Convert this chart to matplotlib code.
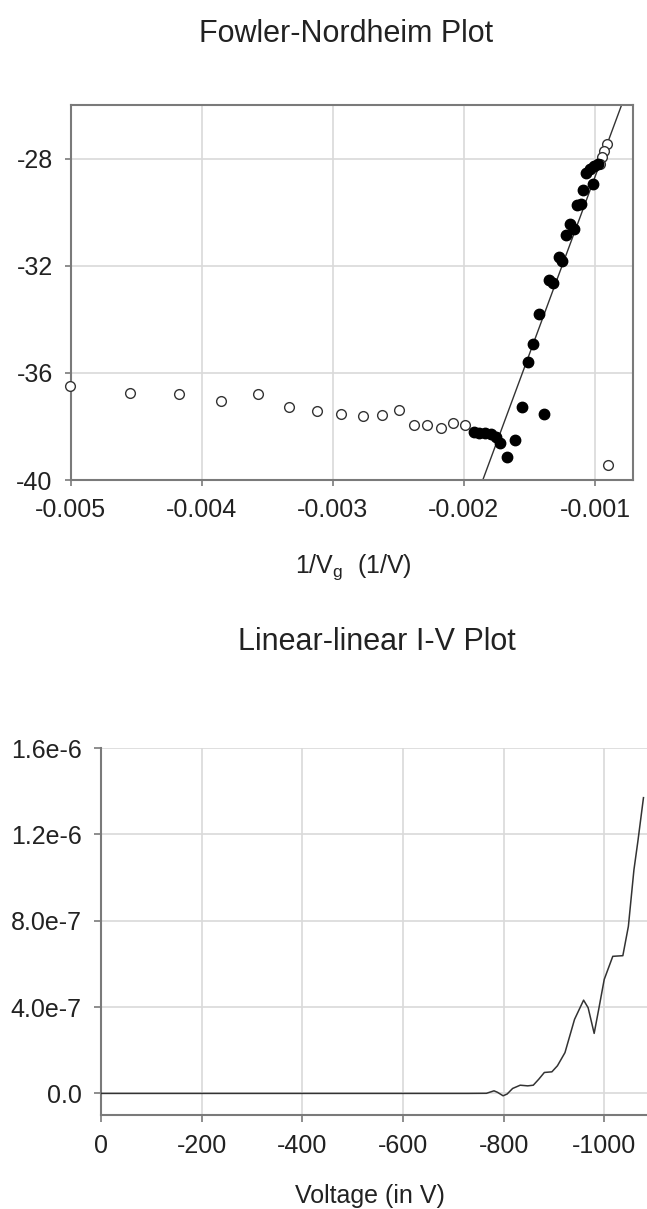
import matplotlib
matplotlib.use("Agg")
import matplotlib.pyplot as plt
import numpy as np

plt.rcParams['font.family'] = ['Liberation Sans', 'DejaVu Sans']
plt.rcParams['axes.unicode_minus'] = False

# ---------------- Fowler-Nordheim data ----------------
fn_open_x = [-0.005003, -0.004546, -0.00417, -0.003851, -0.003569, -0.003331, -0.003119,
             -0.002936, -0.002772, -0.002628, -0.002498, -0.002382, -0.002278, -0.002173,
             -0.00208, -0.001995, -0.000911, -0.000931, -0.000949, -0.000962, -0.000904]
fn_open_y = [-36.50, -36.77, -36.80, -37.05, -36.80, -37.27, -37.43,
             -37.54, -37.62, -37.59, -37.37, -37.95, -37.95, -38.04,
             -37.89, -37.95, -27.45, -27.70, -27.95, -28.20, -39.45]

fn_fill_x = [-0.00192, -0.001882, -0.001836, -0.001796, -0.001758, -0.001727, -0.001669,
             -0.001611, -0.00156, -0.001389, -0.001511, -0.001473, -0.001427, -0.001351,
             -0.001321, -0.001275, -0.00125, -0.001219, -0.001193, -0.00116, -0.001135,
             -0.001109, -0.001089, -0.001066, -0.00104, -0.001008, -0.001018, -0.00098]
fn_fill_y = [-38.20, -38.24, -38.26, -38.30, -38.39, -38.63, -39.13,
             -38.51, -37.27, -37.55, -35.59, -34.94, -33.81, -32.55,
             -32.65, -31.68, -31.84, -30.87, -30.43, -30.63, -29.75,
             -29.71, -29.17, -28.55, -28.39, -28.27, -28.94, -28.20]

fit_x = [-0.001856, -0.000797]
fit_y = [-40.0, -26.0]

fn_xticks = [-0.005, -0.004, -0.003, -0.002, -0.001]
fn_xticklabels = ['-0.005', '-0.004', '-0.003', '-0.002', '-0.001']
fn_yticks = [-40, -36, -32, -28]
fn_yticklabels = ['-40', '-36', '-32', '-28']

# ---------------- I-V data ----------------
iv_v = [0, -729, -766, -781, -788, -799, -807, -818, -833, -848, -859, -870, -881,
        -896, -907, -922, -941, -959, -968, -980, -989, -1000, -1017, -1037, -1048,
        -1059, -1067, -1078]
iv_i = [0, 0, 0.5e-9, 1.2e-8, 0.5e-8, -1.1e-8, -0.3e-8, 2.3e-8, 3.8e-8, 3.5e-8, 3.8e-8,
        6.6e-8, 9.7e-8, 1.0e-7, 1.28e-7, 1.89e-7, 3.43e-7, 4.32e-7, 3.97e-7, 2.78e-7,
        3.89e-7, 5.28e-7, 6.35e-7, 6.38e-7, 7.74e-7, 1.035e-6, 1.17e-6, 1.37e-6]

iv_xticks = [0, -200, -400, -600, -800, -1000]
iv_xticklabels = ['0', '-200', '-400', '-600', '-800', '-1000']
iv_yticks = [0.0, 4.0e-7, 8.0e-7, 1.2e-6, 1.6e-6]
iv_yticklabels = ['0.0', '4.0e-7', '8.0e-7', '1.2e-6', '1.6e-6']

W, H = 647, 1209
fig = plt.figure(figsize=(W / 100, H / 100), dpi=100)

spine_c = '#7a7a7a'
grid_c = '#d9d9d9'
text_c = '#222222'
TICK_FS = 18
TITLE_FS = 22

# ---------- top axes ----------
ax1 = fig.add_axes([70.7 / W, 1 - 480 / H, (633 - 70.7) / W, 375 / H])
ax1.set_xlim(-0.005, -0.00071)
ax1.set_ylim(-40, -26)
ax1.grid(True, color=grid_c, linewidth=1.2, zorder=0)
ax1.set_axisbelow(True)
ax1.plot(fit_x, fit_y, color='#333333', linewidth=1.0, zorder=2)
ax1.plot(fn_open_x, fn_open_y, linestyle='none', marker='o', markersize=7,
         markerfacecolor='white', markeredgecolor='#333333', markeredgewidth=1.0,
         zorder=3, clip_on=False)
ax1.plot(fn_fill_x, fn_fill_y, linestyle='none', marker='o', markersize=7.5,
         markerfacecolor='black', markeredgecolor='black', zorder=4)
ax1.set_xticks(fn_xticks)
ax1.set_xticklabels(fn_xticklabels)
ax1.set_yticks(fn_yticks)
ax1.set_yticklabels(fn_yticklabels)
for s in ax1.spines.values():
    s.set_color(spine_c)
    s.set_linewidth(1.5)
ax1.tick_params(direction='out', length=4, width=1.2, color=spine_c,
                labelsize=TICK_FS, labelcolor=text_c, pad=9)

fig.text(346 / W, 1 - 42 / H, 'Fowler-Nordheim Plot', ha='center', va='baseline',
         fontsize=TITLE_FS, color=text_c)
fig.text(353 / W, 1 - 573 / H, r'1/V$_\mathregular{g}$  (1/V)', ha='center',
         va='baseline', fontsize=TICK_FS, color=text_c)

# ---------- bottom axes ----------
ax2 = fig.add_axes([101 / W, 1 - 1115 / H, (W - 101) / W, (1115 - 748) / H])
ax2.set_xlim(0, -1085)
ax2.set_ylim(-1.0e-7, 1.6e-6)
ax2.grid(True, color=grid_c, linewidth=1.2, zorder=0)
ax2.set_axisbelow(True)
ax2.plot(iv_v, iv_i, color='#333333', linewidth=1.1, zorder=3)
ax2.set_xticks(iv_xticks)
ax2.set_xticklabels(iv_xticklabels)
ax2.set_yticks(iv_yticks)
ax2.set_yticklabels(iv_yticklabels)
ax2.spines['top'].set_visible(False)
ax2.spines['right'].set_visible(False)
for k in ('left', 'bottom'):
    ax2.spines[k].set_color(spine_c)
    ax2.spines[k].set_linewidth(1.5)
ax2.tick_params(direction='out', length=5, width=1.2, color=spine_c,
                labelsize=TICK_FS, labelcolor=text_c, pad=9)

fig.text(377 / W, 1 - 650 / H, 'Linear-linear I-V Plot', ha='center', va='baseline',
         fontsize=TITLE_FS, color=text_c)
fig.text(370 / W, 1 - 1203 / H, 'Voltage (in V)', ha='center', va='baseline',
         fontsize=TICK_FS, color=text_c)

fig.savefig('out.png', dpi=100, facecolor='white')
